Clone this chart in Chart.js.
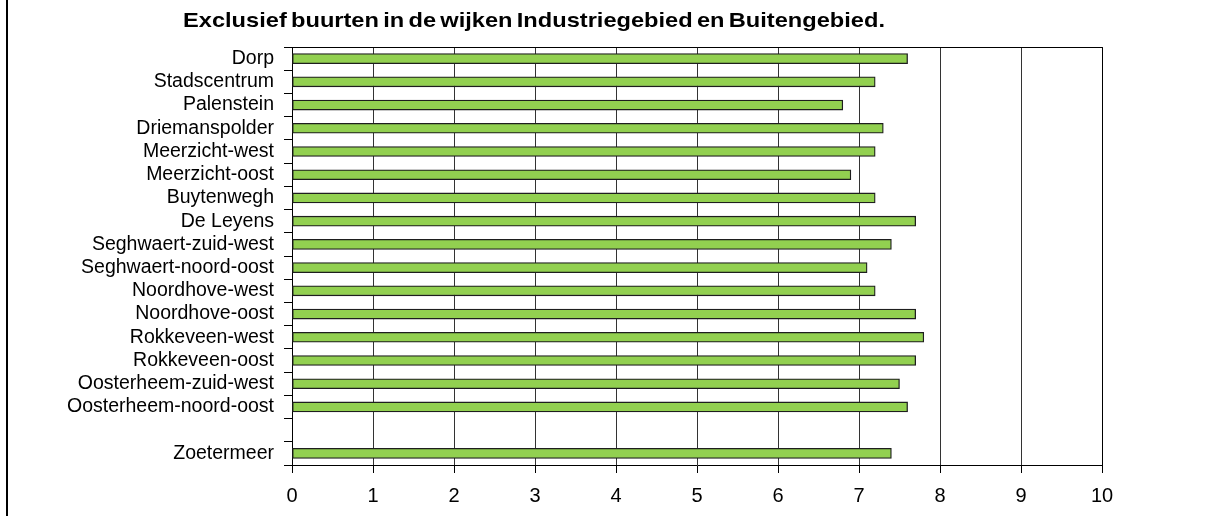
<!DOCTYPE html>
<html>
<head>
<meta charset="utf-8">
<script src="https://cdn.jsdelivr.net/npm/chart.js@4/dist/chart.umd.min.js"></script>
<style>
  html, body { margin: 0; padding: 0; background: #fff; }
  #wrap { position: relative; width: 1205px; height: 516px; overflow: hidden; }
  #frame { position: absolute; left: 6px; top: 0; width: 2px; height: 516px; background: #000; }
  #title { position: absolute; left: 183px; top: 10px; font: bold 20.5px "Liberation Sans", Arial, sans-serif; line-height: 20px; color: #000; white-space: nowrap; transform-origin: 0 0; word-spacing: -2px; }
  canvas { position: absolute; left: 0; top: 0; }
</style>
</head>
<body>
<div id="wrap">
  <canvas id="c" width="1205" height="516"></canvas>
  <div id="frame"></div>
  <div id="title"><span id="tt">Exclusief buurten in de wijken Industriegebied en Buitengebied.</span></div>
</div>
<script>
const categories = [
  'Dorp', 'Stadscentrum', 'Palenstein', 'Driemanspolder', 'Meerzicht-west',
  'Meerzicht-oost', 'Buytenwegh', 'De Leyens', 'Seghwaert-zuid-west',
  'Seghwaert-noord-oost', 'Noordhove-west', 'Noordhove-oost', 'Rokkeveen-west',
  'Rokkeveen-oost', 'Oosterheem-zuid-west', 'Oosterheem-noord-oost', '', 'Zoetermeer'
];
const values = [7.6, 7.2, 6.8, 7.3, 7.2, 6.9, 7.2, 7.7, 7.4, 7.1, 7.2, 7.7, 7.8, 7.7, 7.5, 7.6, null, 7.4];
const xMin = 0;
const xMax = 10;
const xStep = 1;

// fit title width
(function () {
  const tt = document.getElementById('tt');
  const w = tt.getBoundingClientRect().width;
  const target = 702;
  document.getElementById('title').style.transform = 'scaleX(' + (target / w) + ')';
})();

const FONT = '"Liberation Sans", Arial, sans-serif';

const frameLine = {
  id: 'frameLine',
  afterDatasetsDraw(chart) {
    const a = chart.chartArea;
    const ctx = chart.ctx;
    ctx.save();
    ctx.strokeStyle = '#000';
    ctx.lineWidth = 1;
    ctx.beginPath();
    ctx.moveTo(Math.round(a.left) + 0.5, Math.round(a.top) + 0.5);
    ctx.lineTo(Math.round(a.right) + 0.5, Math.round(a.top) + 0.5);
    ctx.lineTo(Math.round(a.right) + 0.5, Math.round(a.bottom) + 0.5);
    ctx.stroke();
    ctx.restore();
  }
};

new Chart(document.getElementById('c'), {
  type: 'bar',
  data: {
    labels: categories,
    datasets: [{
      data: values,
      backgroundColor: '#92D050',
      borderColor: '#1e1e1e',
      borderWidth: 1.3,
      borderSkipped: false,
      barThickness: 10
    }]
  },
  options: {
    indexAxis: 'y',
    responsive: false,
    animation: false,
    devicePixelRatio: 1,
    layout: { padding: { top: 47, right: 103, left: 0, bottom: 0 } },
    plugins: {
      legend: { display: false },
      title: { display: false },
      tooltip: { enabled: false }
    },
    scales: {
      y: {
        type: 'category',
        position: 'left',
        grid: { offset: true, drawOnChartArea: false, color: '#000', tickLength: 8, lineWidth: 1 },
        border: { color: '#000', width: 1 },
        ticks: { color: '#000', font: { size: 19.5, family: FONT }, padding: 10, autoSkip: false },
        afterFit(s) { s.width = 292; }
      },
      x: {
        type: 'linear',
        min: xMin,
        max: xMax,
        position: 'bottom',
        grid: { color: '#333', tickColor: '#000', tickLength: 8, lineWidth: 1 },
        border: { color: '#000', width: 1 },
        ticks: { stepSize: xStep, color: '#000', font: { size: 20, family: FONT }, padding: 11 },
        afterFit(s) { s.height = 51; }
      }
    }
  },
  plugins: [frameLine]
});
</script>
</body>
</html>
